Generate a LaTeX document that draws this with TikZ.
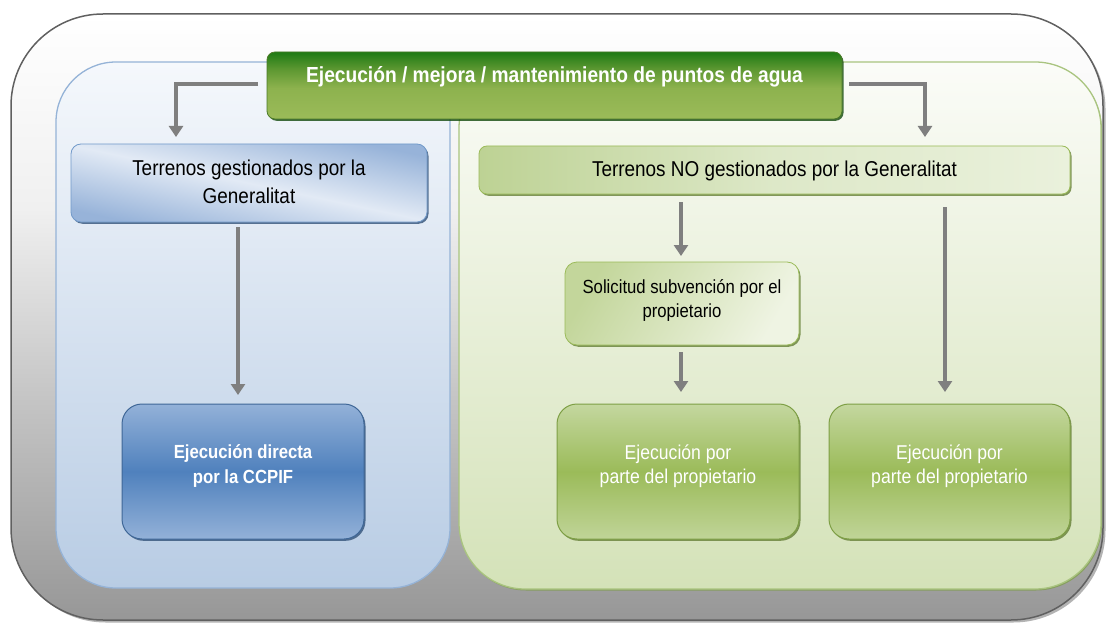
\documentclass[tikz,border=0pt]{standalone}
\usepackage{fontspec}
\setmainfont{Liberation Sans}[FakeStretch=0.88]
\usetikzlibrary{arrows.meta,shadows,calc}
\definecolor{arrgray}{HTML}{7F7F7F}
\definecolor{outerline}{HTML}{606060}
\definecolor{oT}{HTML}{FFFFFF}
\definecolor{o1}{HTML}{F0F0F0}
\definecolor{o2}{HTML}{C4C4C4}
\definecolor{oB}{HTML}{979797}
\definecolor{bluepanT}{HTML}{F5F8FC}
\definecolor{bluepanB}{HTML}{B8CCE4}
\definecolor{bluepanL}{HTML}{95B3D7}
\definecolor{greenpanT}{HTML}{FBFCF8}
\definecolor{greenpanB}{HTML}{D4E2B8}
\definecolor{greenpanL}{HTML}{A9C47F}
\definecolor{tgT}{HTML}{1E7A14}
\definecolor{tgM2}{HTML}{5E9832}
\definecolor{tgM}{HTML}{8DB24E}
\definecolor{tgB}{HTML}{9BBB59}
\definecolor{blueD}{HTML}{4F81BD}
\definecolor{blueL}{HTML}{93B1D8}
\definecolor{blueEdge}{HTML}{3F6797}
\definecolor{blueDark}{HTML}{97B3D9}
\definecolor{bluePale}{HTML}{E2EAF5}
\definecolor{greenD}{HTML}{9BBB59}
\definecolor{greenL}{HTML}{C4D79F}
\definecolor{greenEdge}{HTML}{7E9F45}
\definecolor{greenPale}{HTML}{EFF4E3}
\definecolor{greenMid}{HTML}{C3D69B}
\definecolor{tngL}{HTML}{BDD294}
\definecolor{tngM}{HTML}{DDE8C8}
\definecolor{tngR}{HTML}{EAF1DC}
\pgfdeclareverticalshading{titleshade}{100bp}{color(0bp)=(tgB); color(25bp)=(tgB); color(48bp)=(tgM); color(62bp)=(tgM2); color(75bp)=(tgT); color(100bp)=(tgT)}
\pgfdeclareverticalshading{outershade}{100bp}{color(0bp)=(oB); color(25bp)=(oB); color(43bp)=(o2); color(59bp)=(o1); color(75bp)=(oT); color(100bp)=(oT)}
\tikzset{
  arr/.style={draw=arrgray, line width=4pt, -{Triangle[width=14pt,length=11pt]}},
  boxbase/.style={inner sep=0pt, outer sep=0pt, anchor=center},
  blueshadow/.style={drop shadow={shadow xshift=1.5pt, shadow yshift=-1.8pt, opacity=0.8, fill=blueEdge!80!black}},
  greenshadow/.style={drop shadow={shadow xshift=1.5pt, shadow yshift=-1.8pt, opacity=0.8, fill=greenEdge!80!black}},
  titlebox/.style={boxbase, rounded corners=8pt, shading=titleshade, draw=tgM2!80!black, line width=0.8pt, text=white,
     drop shadow={shadow xshift=1.5pt, shadow yshift=-1.8pt, opacity=0.8, fill=tgT!60!black}},
  bluetop/.style={boxbase, rounded corners=10pt, top color=blueDark, bottom color=blueDark, middle color=bluePale, shading angle=-12, draw=blueD!80!white, line width=0.8pt, blueshadow},
  bluebig/.style={boxbase, rounded corners=20pt, top color=blueL, bottom color=blueL, middle color=blueD, draw=blueEdge, line width=1pt, text=white, blueshadow},
  greentop/.style={boxbase, rounded corners=8pt, left color=tngL, right color=tngR, middle color=tngM, draw=greenD, line width=0.8pt, greenshadow},
  greensol/.style={boxbase, rounded corners=12pt, left color=greenMid, right color=greenPale, shading angle=60, draw=greenD, line width=0.8pt, greenshadow},
  greenbig/.style={boxbase, rounded corners=20pt, top color=greenL, bottom color=greenL!90!greenD, middle color=greenD, draw=greenEdge, line width=1pt, text=white, greenshadow},
}
\newcommand{\lines}[2]{\raisebox{#1}[0pt][0pt]{\begin{tabular}[b]{@{}c@{}}#2\end{tabular}}}
\begin{document}
\begin{tikzpicture}[x=1pt,y=-1pt]
\useasboundingbox (0,0) rectangle (1106,623);
% outer frame
\draw[draw=outerline, line width=1.5pt, shading=outershade, rounded corners=92pt,
      drop shadow={shadow xshift=2.5pt, shadow yshift=-2.5pt, opacity=0.6}] (11,14) rectangle (1103,620);
% panels
\draw[draw=bluepanL, line width=1.3pt, top color=bluepanT, bottom color=bluepanB, rounded corners=60pt] (56,62) rectangle (450,588);
\draw[draw=greenpanL, line width=1.3pt, top color=greenpanT, bottom color=greenpanB, rounded corners=66pt,
      drop shadow={shadow xshift=1pt, shadow yshift=-1.5pt, opacity=0.7, fill=greenEdge}] (459,62) rectangle (1101,589);
% title
\node[titlebox, minimum width=575pt, minimum height=67pt] (title) at (554.5,85.5)
  {\fontsize{21.8}{26}\selectfont\bfseries\lines{2.5pt}{Ejecución / mejora / mantenimiento de puntos de agua}};
% left branch
\node[bluetop, minimum width=356pt, minimum height=78pt] (tg) at (249,183)
  {\fontsize{21.5}{28}\selectfont\lines{-20pt}{Terrenos gestionados por la\\Generalitat}};
\node[bluebig, minimum width=242pt, minimum height=135pt] (ccpif) at (243,471.5)
  {\fontsize{19}{25}\selectfont\bfseries\lines{-12pt}{Ejecución directa\\por la CCPIF}};
% right branch
\node[greentop, minimum width=591pt, minimum height=48pt] (tng) at (774.5,170)
  {\fontsize{21.5}{28}\selectfont\lines{-6pt}{Terrenos NO gestionados por la Generalitat}};
\node[greensol, minimum width=234pt, minimum height=83pt] (sol) at (682,303.5)
  {\fontsize{19}{24}\selectfont\lines{-13.5pt}{Solicitud subvención por el\\propietario}};
\node[greenbig, minimum width=242pt, minimum height=135pt] (b1) at (678,471.5)
  {\fontsize{20}{24}\selectfont\lines{-12pt}{Ejecución por\\parte del propietario}};
\node[greenbig, minimum width=241pt, minimum height=135pt] (b2) at (949.5,471.5)
  {\fontsize{20}{24}\selectfont\lines{-12pt}{Ejecución por\\parte del propietario}};
% arrows
\draw[arr] ([xshift=-9pt,yshift=1.5pt]title.west) -| ([xshift=-73pt,yshift=7pt]tg.north);
\draw[arr] ([xshift=7pt,yshift=1.5pt]title.east) -| ([xshift=150.5pt,yshift=9pt]tng.north);
\draw[arr] ([xshift=-11pt,yshift=-5pt]tg.south) -- ([xshift=-5pt,yshift=9pt]ccpif.north);
\draw[arr] ([xshift=-93.5pt,yshift=-8pt]tng.south) -- ([xshift=-1pt,yshift=6pt]sol.north);
\draw[arr] ([xshift=-1pt,yshift=-7pt]sol.south) -- ([xshift=3pt,yshift=12pt]b1.north);
\draw[arr] ([xshift=170.5pt,yshift=-13pt]tng.south) -- ([xshift=-4.5pt,yshift=12pt]b2.north);
\end{tikzpicture}
\end{document}
